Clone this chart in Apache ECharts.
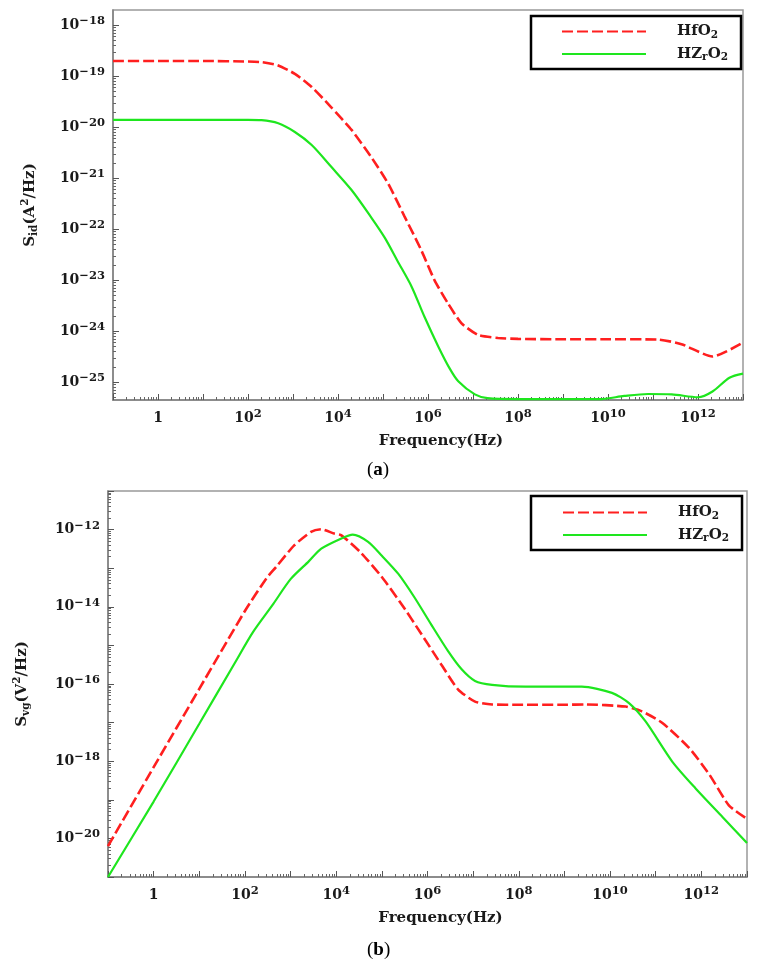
<!DOCTYPE html>
<html>
<head>
<meta charset="utf-8">
<title>Noise spectra</title>
<script src="https://cdn.jsdelivr.net/npm/echarts@6/dist/echarts.min.js"></script>
<style>
  html, body { margin: 0; padding: 0; background: #fff; }
  #chart { width: 757px; height: 970px; }
</style>
</head>
<body>
<div id="chart"></div>
<script>
// (a) drain current noise Sid
const freqA_HfO2 = [0.1, 1, 10, 100, 200, 450, 1100, 2600, 7000, 2e4, 5.5e4, 1.3e5, 3e5, 7e5, 1.4e6, 2.8e6, 5.5e6, 1.3e7, 3.6e7, 1e8, 1e9, 1e10, 1.3e11, 4.3e11, 2.1e12, 1e13];
const sidHfO2 = [2.0e-19, 2.0e-19, 2.0e-19, 1.95e-19, 1.9e-19, 1.66e-19, 1.12e-19, 6.2e-20, 2.5e-20, 8.9e-21, 2.6e-21, 7.9e-22, 1.8e-22, 4.0e-23, 1.0e-23, 3.5e-24, 1.45e-24, 8.5e-25, 7.4e-25, 7.1e-25, 7.0e-25, 7.0e-25, 6.9e-25, 5.6e-25, 3.2e-25, 6.0e-25];
const freqA_HZrO2 = [0.1, 1, 10, 100, 200, 470, 1100, 2600, 7000, 2e4, 5.5e4, 1.1e5, 2.1e5, 4.3e5, 8.3e5, 1.7e6, 3e6, 4.7e6, 1.1e7, 2.1e7, 1e8, 1e9, 7e9, 2.3e10, 7.8e10, 2.6e11, 1e12, 2.1e12, 5e12, 1e13];
const sidHZrO2 = [1.4e-20, 1.4e-20, 1.4e-20, 1.4e-20, 1.38e-20, 1.2e-20, 8.1e-21, 4.5e-21, 1.7e-21, 5.9e-22, 1.7e-22, 6.8e-23, 2.4e-23, 7.6e-24, 1.95e-24, 5.0e-25, 1.9e-25, 1.05e-25, 5.8e-26, 4.9e-26, 4.7e-26, 4.7e-26, 4.7e-26, 5.4e-26, 5.9e-26, 5.8e-26, 5.1e-26, 6.6e-26, 1.23e-25, 1.48e-25];

// (b) gate voltage noise Svg
const freqB_HfO2 = [0.1, 1, 10, 100, 300, 480, 1200, 2800, 4700, 9000, 1.3e4, 3.5e4, 1e5, 2.7e5, 7.4e5, 2e6, 4.7e6, 1.1e7, 2.6e7, 1e8, 1e9, 2.9e9, 2.2e10, 5e10, 1.4e11, 5.4e11, 1.5e12, 4e12, 1e13];
const svgHfO2 = [6.3e-21, 7e-19, 7.5e-17, 7.8e-15, 5.6e-14, 1.07e-13, 3.9e-13, 8.7e-13, 1.02e-12, 7.9e-13, 7.1e-13, 2.5e-13, 5.9e-14, 1.17e-14, 1.95e-15, 3.2e-16, 7.2e-17, 3.5e-17, 2.95e-17, 2.9e-17, 2.9e-17, 2.95e-17, 2.6e-17, 1.95e-17, 9.8e-18, 2.2e-18, 4.5e-19, 7.2e-20, 3.2e-20];
const freqB_HZrO2 = [0.1, 1, 10, 60, 150, 400, 1000, 2500, 4700, 1.3e4, 2.3e4, 5e4, 1e5, 2.3e5, 5.2e5, 1.2e6, 2.8e6, 5.6e6, 1.1e7, 2.6e7, 1.4e8, 2.4e9, 1.1e10, 2.6e10, 6e10, 2.3e11, 7.4e11, 2.9e12, 1e13];
const svgHZrO2 = [1.0e-21, 9e-20, 9.3e-18, 3.5e-16, 2.2e-15, 1.1e-14, 5.2e-14, 1.5e-13, 3.2e-13, 5.9e-13, 7.4e-13, 4.8e-13, 2.1e-13, 7.1e-14, 1.74e-14, 3.5e-15, 7.2e-16, 2.4e-16, 1.2e-16, 9.5e-17, 8.5e-17, 8.5e-17, 5.9e-17, 3.2e-17, 1.07e-17, 9.8e-19, 2.0e-19, 3.6e-20, 7.6e-21];

// axis ticks / labels
const freqDecades = [0.1, 1, 10, 100, 1e3, 1e4, 1e5, 1e6, 1e7, 1e8, 1e9, 1e10, 1e11, 1e12, 1e13];
const freqLabels = [1, 1e2, 1e4, 1e6, 1e8, 1e10, 1e12];
const sidDecades = [1e-26, 1e-25, 1e-24, 1e-23, 1e-22, 1e-21, 1e-20, 1e-19, 1e-18];
const sidLabels = [1e-25, 1e-24, 1e-23, 1e-22, 1e-21, 1e-20, 1e-19, 1e-18];
const svgDecades = [1e-21, 1e-20, 1e-19, 1e-18, 1e-17, 1e-16, 1e-15, 1e-14, 1e-13, 1e-12, 1e-11];
const svgLabels = [1e-20, 1e-18, 1e-16, 1e-14, 1e-12];

const FONT = 'DejaVu Serif';
const RED = '#ff1f1f';
const GREEN = '#1ee61e';

// only the values inside the axis range
const inRange = (vals, lo, hi) => vals.filter(v => v >= lo && v <= hi);

// 2..9 x decade, kept inside [lo, hi]
function minorTicks(decades, lo, hi) {
  const out = [];
  decades.forEach(d => {
    for (let k = 2; k <= 9; k++) {
      const v = k * d;
      if (v > lo && v < hi) out.push(v);
    }
  });
  return out;
}

function powLabel(v) {
  const e = Math.round(Math.log10(v));
  if (e === 0) return '{b|1}';
  return '{b|10}{s|' + String(e).replace('-', '\u2212') + '}';
}

const labelRich = {
  b: { fontFamily: FONT, fontWeight: 'bold', fontSize: 14, lineHeight: 20, color: '#1a1a1a' },
  s: { fontFamily: FONT, fontWeight: 'bold', fontSize: 11.5, lineHeight: 12, verticalAlign: 'top', color: '#1a1a1a' }
};
const nameRich = {
  m: { fontFamily: FONT, fontWeight: 'bold', fontSize: 15, lineHeight: 20, color: '#1a1a1a' },
  sub: { fontFamily: FONT, fontWeight: 'bold', fontSize: 10.5, lineHeight: 11, verticalAlign: 'bottom', color: '#1a1a1a' },
  sup: { fontFamily: FONT, fontWeight: 'bold', fontSize: 10.5, lineHeight: 11, verticalAlign: 'top', color: '#1a1a1a' }
};

function majorAxis(opts) {
  return {
    type: 'log',
    logBase: 10,
    gridIndex: opts.grid,
    position: opts.position,
    min: opts.min,
    max: opts.max,
    name: opts.name,
    nameLocation: 'middle',
    nameGap: opts.nameGap,
    nameRotate: opts.nameRotate,
    nameTextStyle: {
      fontFamily: FONT, fontWeight: 'bold', fontSize: 15, color: '#1a1a1a',
      padding: opts.namePadding || 0,
      rich: nameRich
    },
    axisLine: { show: true, lineStyle: { color: '#808080', width: 1.5 } },
    axisTick: { show: true, inside: true, length: 6, customValues: inRange(opts.ticks, opts.min, opts.max), lineStyle: { color: '#555', width: 1 } },
    minorTick: { show: false },
    axisLabel: { show: true, margin: 8, customValues: opts.labels, formatter: powLabel, rich: labelRich },
    splitLine: { show: false }
  };
}

function minorAxis(opts) {
  return {
    type: 'log',
    logBase: 10,
    gridIndex: opts.grid,
    position: opts.position,
    min: opts.min,
    max: opts.max,
    axisLine: { show: false },
    axisTick: { show: true, inside: true, length: 3, customValues: minorTicks(opts.decades, opts.min, opts.max), lineStyle: { color: '#666', width: 1 } },
    axisLabel: { show: false },
    splitLine: { show: false }
  };
}

const zip = (xs, ys) => xs.map((x, i) => [x, ys[i]]);

function legendFmt(name) {
  return name === 'HfO2' ? '{m|HfO}{s|2}' : '{m|HZ}{s|r}{m|O}{s|2}';
}

function legendAt(left, top, padding) {
  return {
    data: ['HfO2', 'HZrO2'],
    orient: 'vertical',
    left: left,
    top: top,
    padding: padding,
    itemGap: 6,
    itemWidth: 84,
    itemHeight: 18,
    selectedMode: false,
    backgroundColor: '#fff',
    borderColor: '#000',
    borderWidth: 2.5,
    // hide the marker, keep only the line
    itemStyle: { opacity: 0 },
    formatter: legendFmt,
    textStyle: {
      padding: [0, 0, 0, 26],
      rich: {
        m: { fontFamily: FONT, fontWeight: 'bold', fontSize: 15, lineHeight: 18, color: '#1a1a1a' },
        s: { fontFamily: FONT, fontWeight: 'bold', fontSize: 10.5, lineHeight: 10, verticalAlign: 'bottom', color: '#1a1a1a' }
      }
    }
  };
}

const chart = echarts.init(document.getElementById('chart'), null, { renderer: 'canvas' });

const option = {
  animation: false,
  backgroundColor: '#fff',
  grid: [
    { left: 113, top: 10, width: 630, height: 390, show: true, borderColor: '#999', borderWidth: 1.5, outerBoundsMode: 'none' },
    { left: 108, top: 491, width: 639, height: 386, show: true, borderColor: '#999', borderWidth: 1.5, outerBoundsMode: 'none' }
  ],
  xAxis: [
    majorAxis({ grid: 0, position: 'bottom', min: 0.1, max: 1e13, ticks: freqDecades, labels: freqLabels,
      name: 'Frequency(Hz)', nameGap: 34, namePadding: [0, 0, 0, 26] }),
    minorAxis({ grid: 0, position: 'bottom', min: 0.1, max: 1e13, decades: freqDecades }),
    majorAxis({ grid: 1, position: 'bottom', min: 0.1, max: 1e13, ticks: freqDecades, labels: freqLabels,
      name: 'Frequency(Hz)', nameGap: 34, namePadding: [0, 0, 0, 26] }),
    minorAxis({ grid: 1, position: 'bottom', min: 0.1, max: 1e13, decades: freqDecades })
  ],
  yAxis: [
    majorAxis({ grid: 0, position: 'left', min: 4.5e-26, max: 2e-18, ticks: sidDecades, labels: sidLabels,
      name: '{m|S}{sub|id}{m|(A}{sup|2}{m|/Hz)}', nameGap: 73, nameRotate: 90 }),
    minorAxis({ grid: 0, position: 'left', min: 4.5e-26, max: 2e-18, decades: sidDecades }),
    majorAxis({ grid: 1, position: 'left', min: 1e-21, max: 1e-11, ticks: svgDecades, labels: svgLabels,
      name: '{m|S}{sub|vg}{m|(V}{sup|2}{m|/Hz)}', nameGap: 76, nameRotate: 90 }),
    minorAxis({ grid: 1, position: 'left', min: 1e-21, max: 1e-11, decades: svgDecades })
  ],
  legend: [
    legendAt(531, 16, [8, 13, 6, 30]),
    legendAt(531, 496, [9, 13, 6, 31])
  ],
  series: [
    { name: 'HfO2', type: 'line', xAxisIndex: 0, yAxisIndex: 0, data: zip(freqA_HfO2, sidHfO2),
      symbol: 'none', smooth: 0.2, lineStyle: { color: RED, width: 2.6, type: [11, 4] }, itemStyle: { color: RED } },
    { name: 'HZrO2', type: 'line', xAxisIndex: 0, yAxisIndex: 0, data: zip(freqA_HZrO2, sidHZrO2),
      symbol: 'none', smooth: 0.3, lineStyle: { color: GREEN, width: 2.2 }, itemStyle: { color: GREEN } },
    { name: 'HfO2', type: 'line', xAxisIndex: 2, yAxisIndex: 2, data: zip(freqB_HfO2, svgHfO2),
      symbol: 'none', smooth: 0.2, lineStyle: { color: RED, width: 2.6, type: [11, 4] }, itemStyle: { color: RED } },
    { name: 'HZrO2', type: 'line', xAxisIndex: 2, yAxisIndex: 2, data: zip(freqB_HZrO2, svgHZrO2),
      symbol: 'none', smooth: 0.25, lineStyle: { color: GREEN, width: 2.2 }, itemStyle: { color: GREEN } }
  ],
  graphic: [
    { type: 'text', left: 367, top: 461, style: { text: '{n|(}{b|a}{n|)}', rich: {
        n: { fontFamily: 'Liberation Serif', fontSize: 19, color: '#111' },
        b: { fontFamily: 'Liberation Serif', fontSize: 19, fontWeight: 'bold', color: '#111' } } } },
    { type: 'text', left: 367, top: 941, style: { text: '{n|(}{b|b}{n|)}', rich: {
        n: { fontFamily: 'Liberation Serif', fontSize: 19, color: '#111' },
        b: { fontFamily: 'Liberation Serif', fontSize: 19, fontWeight: 'bold', color: '#111' } } } }
  ]
};

chart.setOption(option);
window.addEventListener('resize', chart.resize);
</script>
</body>
</html>
